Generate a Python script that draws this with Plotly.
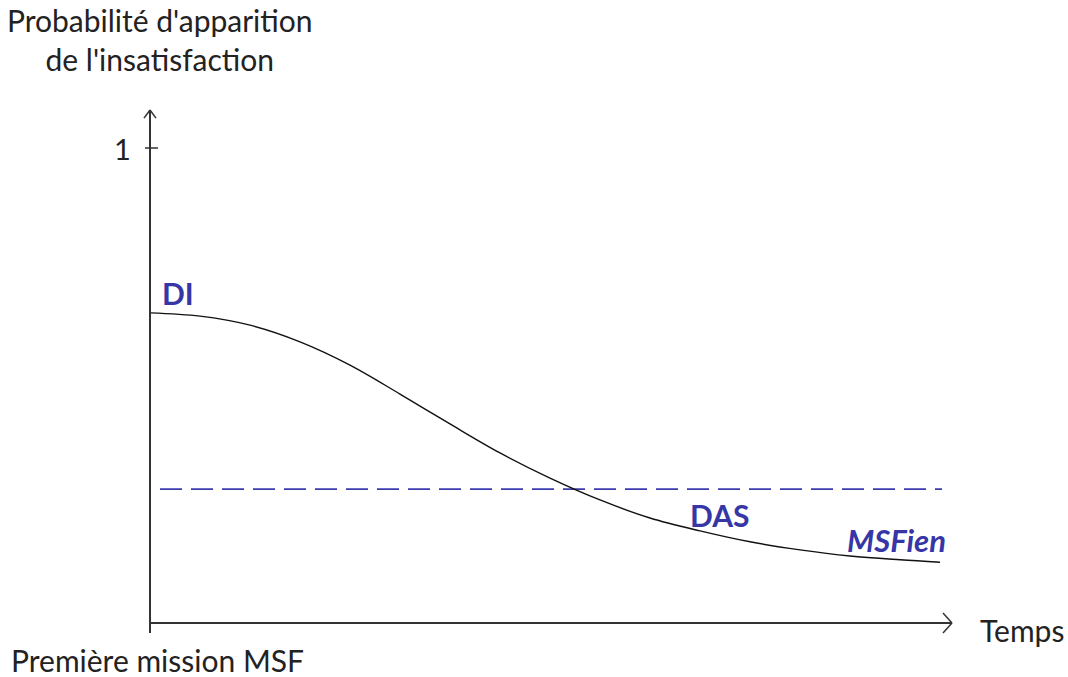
import plotly.graph_objects as go

# Data (time in arbitrary units, probability 0..1)
temps = [0.0, 0.625, 1.25, 1.875, 2.5, 3.125, 3.75, 4.375, 5.0, 5.625,
         6.25, 6.875, 7.5, 8.125, 8.75, 9.375, 9.875]
proba = [0.653, 0.646, 0.627, 0.592, 0.543, 0.482, 0.419, 0.358, 0.305, 0.259,
         0.221, 0.194, 0.171, 0.154, 0.141, 0.133, 0.128]
seuil_x = [0.125, 9.9]
seuil_y = [0.282, 0.282]

TXT = "#222222"
BLUE = "#3636a6"
FONT = "Lato"

fig = go.Figure()
fig.add_trace(go.Scatter(x=seuil_x, y=seuil_y, mode="lines",
                         line=dict(color="#3c3cae", width=1.8, dash="22px,9px"),
                         hoverinfo="skip"))
fig.add_trace(go.Scatter(x=temps, y=proba, mode="lines",
                         line=dict(color="#111111", width=1.4, shape="spline", smoothing=1.0),
                         hoverinfo="skip"))

ax_col = "#333333"
shapes = [
    dict(type="line", x0=0, x1=0, y0=-0.021, y1=1.08, line=dict(color=ax_col, width=2)),
    dict(type="line", x0=0, x1=10.025, y0=0, y1=0, line=dict(color=ax_col, width=2)),
    # y arrow head
    dict(type="line", x0=-0.075, x1=0, y0=1.063, y1=1.08, line=dict(color=ax_col, width=1.5)),
    dict(type="line", x0=0.075, x1=0, y0=1.063, y1=1.08, line=dict(color=ax_col, width=1.5)),
    # x arrow head
    dict(type="line", x0=9.9125, x1=10.025, y0=0.021, y1=0, line=dict(color=ax_col, width=1.5)),
    dict(type="line", x0=9.9125, x1=10.025, y0=-0.021, y1=0, line=dict(color=ax_col, width=1.5)),
    # tick at 1
    dict(type="line", x0=-0.0625, x1=0.1, y0=1, y1=1, line=dict(color=ax_col, width=1.5)),
]

def ann(x, y, text, color=TXT, size=30, xanchor="center"):
    return dict(x=x, y=y, xref="x", yref="y", text=text, showarrow=False,
                xanchor=xanchor, yanchor="middle",
                font=dict(family=FONT, size=size, color=color))

annotations = [
    ann(0.125, 1.229, "Probabilité d'apparition<br>de l'insatisfaction"),
    ann(-0.35, 1.0, "1", size=29),
    ann(10.35, -0.0147, "Temps", xanchor="left"),
    ann(0.0875, -0.078, "Première mission MSF"),
    ann(0.125, 0.695, "<b>DI</b>", color=BLUE, size=30, xanchor="left"),
    ann(6.725, 0.227, "<b>DAS</b>", color=BLUE, size=30, xanchor="left"),
    ann(8.6875, 0.175, "<b><i>MSFien</i></b>", color=BLUE, size=31, xanchor="left"),
]

fig.update_layout(
    width=1068, height=677,
    margin=dict(l=0, r=0, t=0, b=0),
    paper_bgcolor="white", plot_bgcolor="white",
    showlegend=False,
    xaxis=dict(range=[-1.875, 11.475], visible=False, fixedrange=True),
    yaxis=dict(range=[-0.1137, 1.3116], visible=False, fixedrange=True),
    shapes=shapes, annotations=annotations,
)

fig.write_html("out.html", config={"displayModeBar": False},
               post_script="document.body.style.margin='0';document.body.style.overflow='hidden';")
